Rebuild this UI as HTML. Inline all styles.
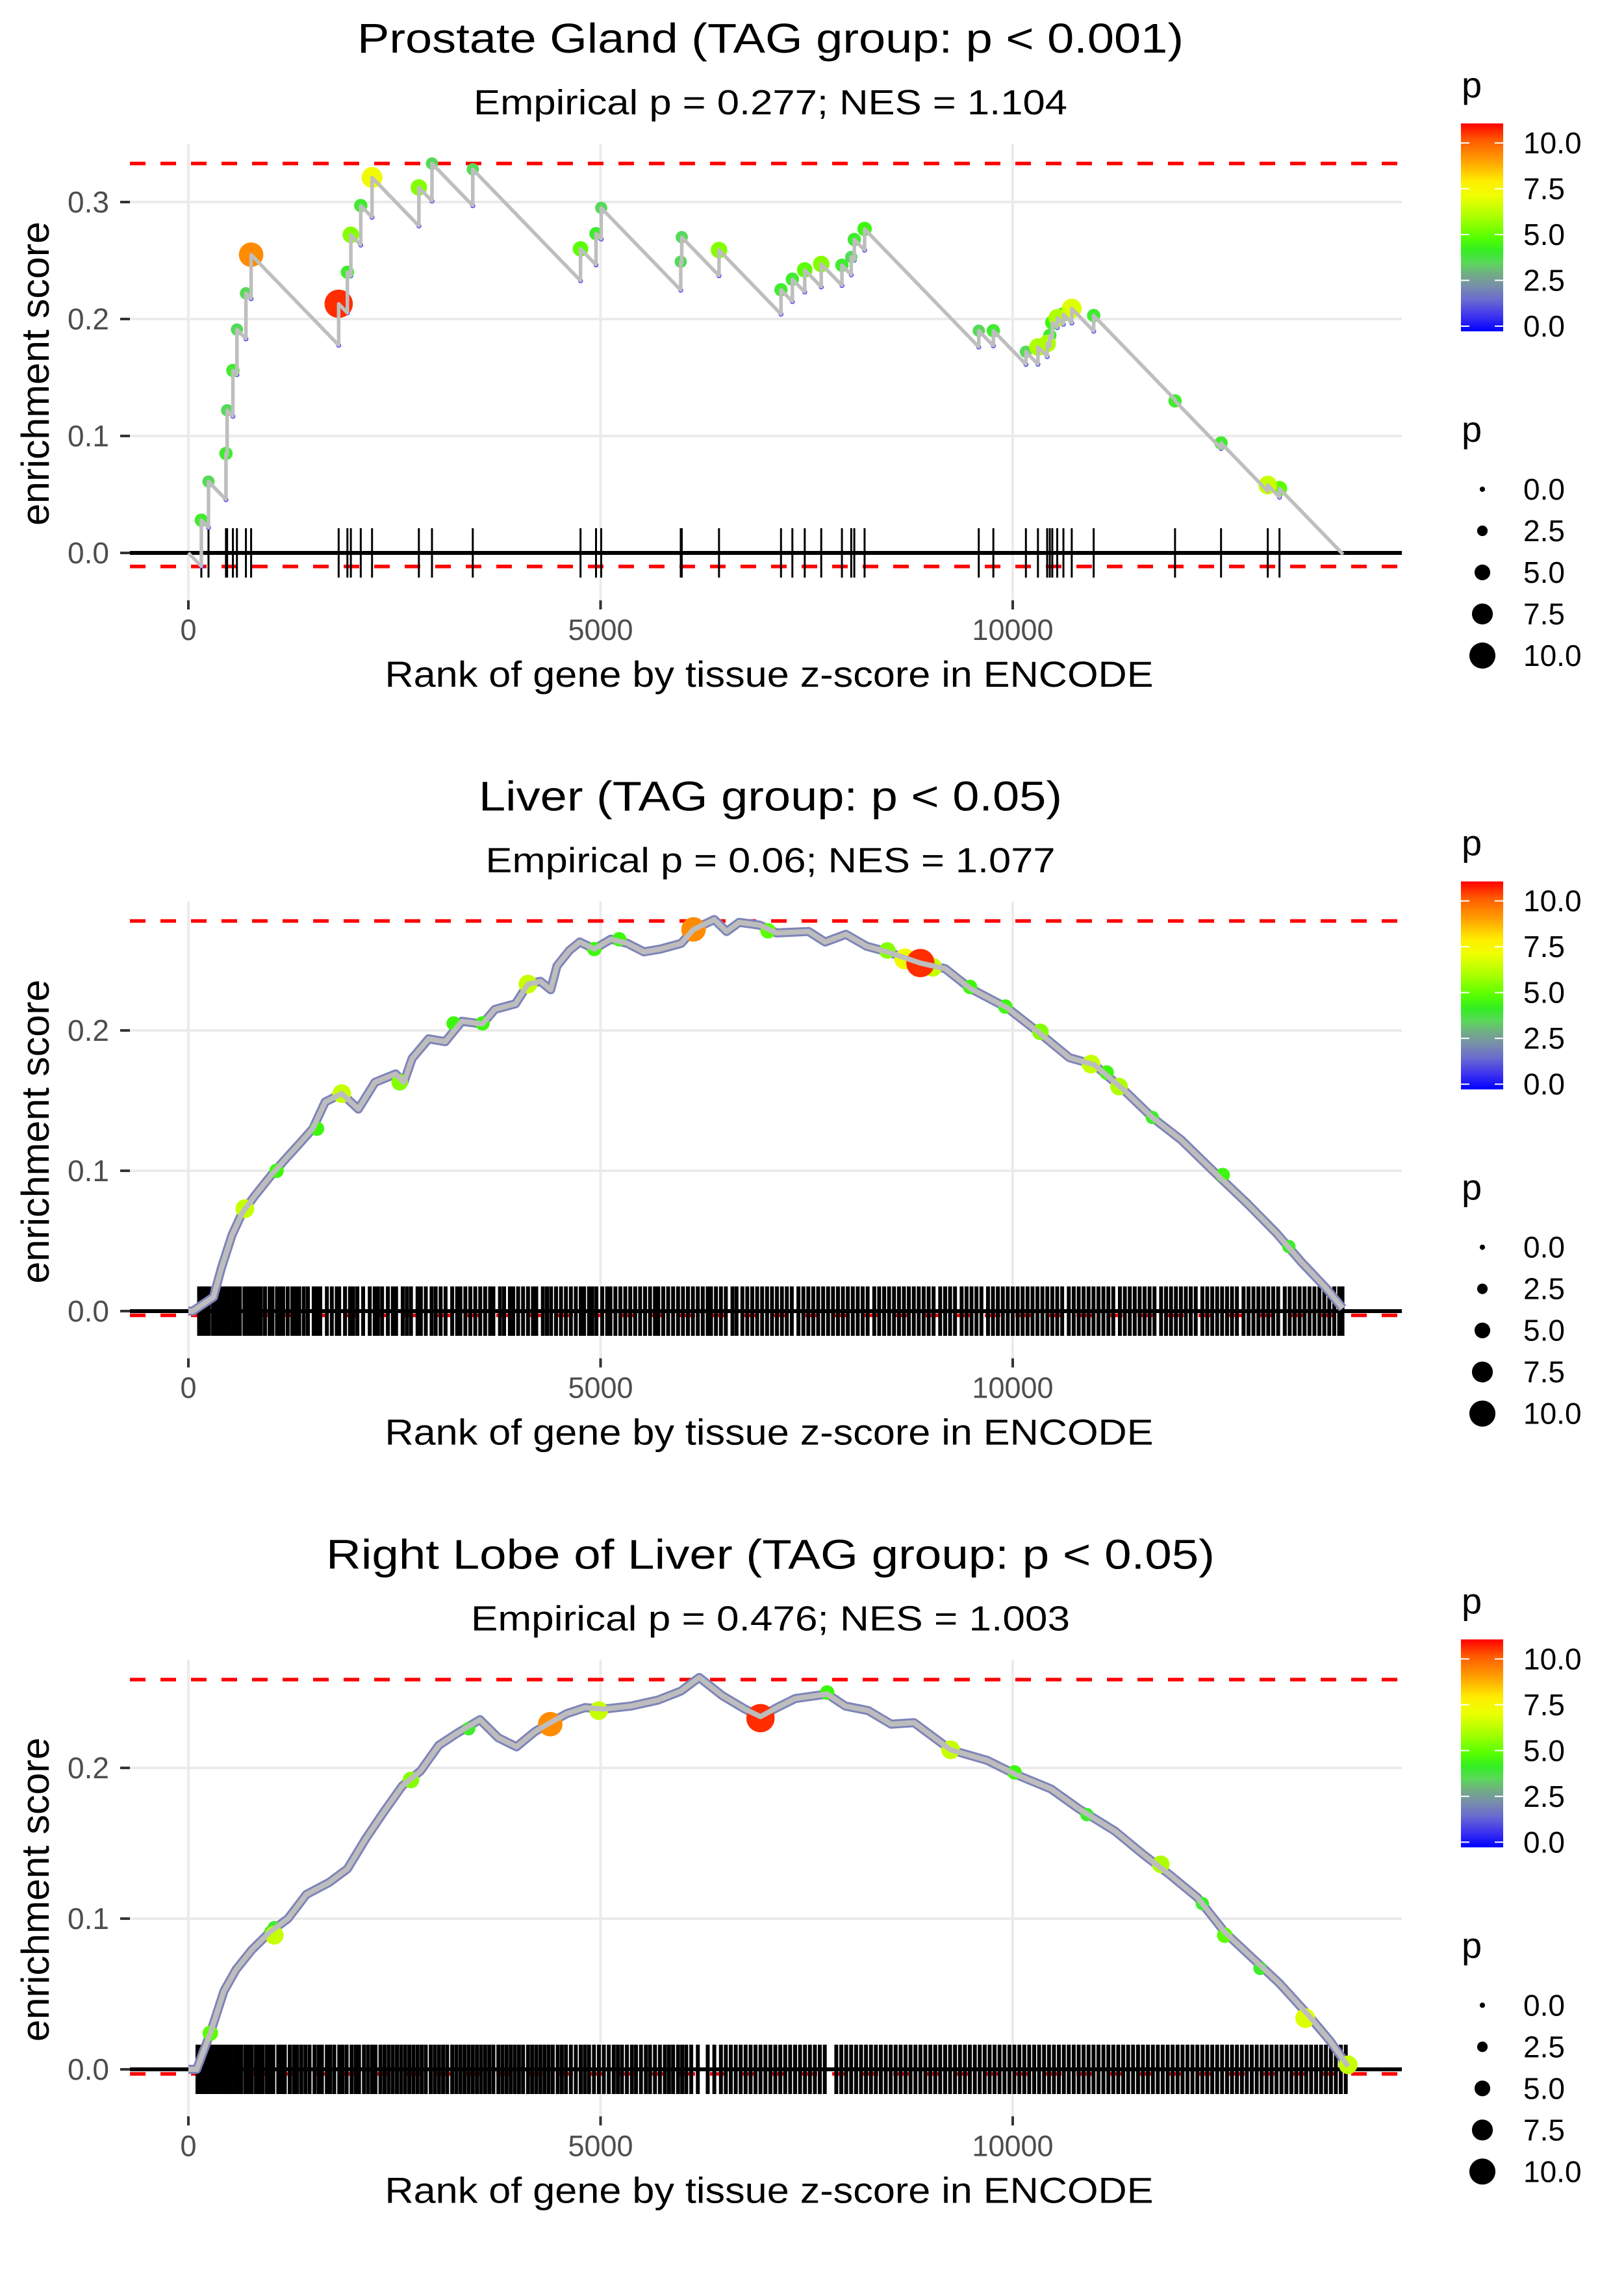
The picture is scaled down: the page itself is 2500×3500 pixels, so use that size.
<!DOCTYPE html>
<html><head><meta charset="utf-8">
<style>
html,body{margin:0;padding:0;background:#fff;}
svg{display:block;font-family:"Liberation Sans",Arial,sans-serif;}
</style></head>
<body>
<svg id="chart" xmlns="http://www.w3.org/2000/svg" width="2500" height="3500" viewBox="0 0 2500 3500">
<defs>
<linearGradient id="pgrad" x1="0" y1="1" x2="0" y2="0">
<stop offset="0" stop-color="#0000ff"/>
<stop offset="0.07" stop-color="#3a30f0"/>
<stop offset="0.15" stop-color="#6a6ad0"/>
<stop offset="0.22" stop-color="#7890a8"/>
<stop offset="0.28" stop-color="#70b080"/>
<stop offset="0.33" stop-color="#5ad85a"/>
<stop offset="0.39" stop-color="#33ee22"/>
<stop offset="0.45" stop-color="#55ff00"/>
<stop offset="0.55" stop-color="#aaff00"/>
<stop offset="0.65" stop-color="#eeff00"/>
<stop offset="0.72" stop-color="#ffee00"/>
<stop offset="0.82" stop-color="#ffa000"/>
<stop offset="0.92" stop-color="#ff5a00"/>
<stop offset="1" stop-color="#ff0000"/>
</linearGradient>
</defs>
<g id="panels"></g>
</svg>
<script>
// ---------- Panel 1: Prostate Gland ----------
const P1_rank=[157,244,456,470,540,589,698,761,1823,1929,1971,2091,2228,2796,2955,3450,4757,4945,5008,5973,5985,6437,7189,7327,7477,7677,7928,8041,8078,8203,9588,9765,10160,10306,10418,10450,10480,10540,10615,10716,10982,11969,12527,13094,13236];
const P1_es=[0.028,0.061,0.085,0.122,0.156,0.191,0.222,0.255,0.213,0.240,0.272,0.297,0.321,0.3125,0.333,0.328,0.260,0.273,0.295,0.249,0.270,0.259,0.225,0.234,0.242,0.247,0.246,0.253,0.268,0.277,0.190,0.190,0.172,0.176,0.179,0.186,0.197,0.201,0.204,0.209,0.203,0.130,0.094,0.058,0.055];
const P1_p=[3.5,3,3.5,3,3.5,3,3,8.7,10.5,3.5,5,3.5,7,5,3,3,4.5,3.5,3,3,3,5,3.5,3.5,4.5,5,3.5,3,3.5,4,3,3.5,3,5.5,5.5,3.5,4,5.5,4,6.5,3.5,3.5,3.5,6,4.5];
const P1_end=14008;
const P1_drop=0.0000729;

// ---------- Panel 2: Liver ----------
const P2_curveRank=[0,53,304,402,528,653,803,1007,1157,1358,1509,1659,1860,2062,2263,2514,2614,2714,2915,3116,3317,3567,3718,3969,4120,4270,4395,4472,4622,4748,4924,5125,5326,5527,5727,5978,6128,6379,6530,6681,6932,7133,7524,7724,7976,8227,8478,8880,9181,9482,9935,10285,10687,10990,11340,11693,12044,12446,12848,13200,13501,13803,14003];
const P2_curveES=[0,0,0.010,0.031,0.054,0.070,0.082,0.097,0.107,0.120,0.130,0.149,0.155,0.144,0.163,0.169,0.163,0.180,0.194,0.192,0.2065,0.2046,0.215,0.219,0.233,0.235,0.229,0.246,0.257,0.263,0.258,0.265,0.262,0.256,0.258,0.262,0.272,0.279,0.2705,0.277,0.275,0.2695,0.2705,0.263,0.2685,0.260,0.256,0.248,0.244,0.230,0.216,0.200,0.1806,0.1755,0.158,0.138,0.122,0.099,0.0765,0.0555,0.035,0.0163,0.002];
const P2_hlRank=[685,1070,1560,1860,2564,3218,3567,4120,4924,5225,7032,8478,9482,9910,10335,11140,11693,12547,13350,10950,11290,8690,9030,6128,8880];
const P2_hlES=[0.073,0.100,0.130,0.155,0.163,0.205,0.205,0.233,0.258,0.265,0.271,0.257,0.231,0.217,0.199,0.170,0.138,0.097,0.046,0.176,0.160,0.251,0.245,0.272,0.248];
const P2_hlP=[6,4,4,6,5,4,4,6,4,4,4.5,5,4,4,5,4,3.5,4,3.5,6,5.5,7,6,8.7,10.5];
const P2_rug=[130,170,215,250,300,335,380,420,455,500,545,590,625,680,720,760,805,850,880,930,985,1020,1075,1120,1150,1205,1260,1300,1345,1400,1450,1520,1560,1600,1680,1740,1800,1830,1900,1960,2000,2050,2120,2200,2260,2300,2350,2420,2480,2520,2600,2650,2700,2780,2820,2880,2950,3000,3060,3120,3200,3260,3300,3360,3420,3480,3540,3600,3660,3700,3780,3830,3900,3940,4000,4060,4120,4180,4220,4300,4350,4400,4460,4520,4580,4640,4700,4760,4800,4860,4900,4950,5020,5080,5120,5180,5240,5300,5360,5420,5480,5540,5600,5660,5700,5760,5820,5880,5940,6000,6060,6120,6180,6240,6300,6340,6400,6460,6520,6600,6650,6720,6780,6840,6900,6960,7020,7080,7140,7200,7260,7320,7400,7460,7520,7580,7640,7700,7760,7820,7880,7940,8000,8060,8120,8180,8240,8320,8380,8440,8500,8560,8620,8680,8740,8800,8860,8920,8980,9040,9120,9180,9240,9300,9380,9440,9500,9560,9620,9700,9760,9820,9880,9940,10000,10060,10120,10180,10240,10300,10360,10420,10480,10540,10600,10680,10740,10800,10860,10920,10980,11040,11100,11160,11220,11300,11360,11420,11480,11540,11600,11660,11720,11800,11860,11920,11980,12040,12100,12160,12220,12300,12360,12420,12480,12540,12600,12660,12720,12800,12860,12920,12980,13040,13100,13160,13220,13300,13360,13420,13480,13540,13600,13660,13720,13780,13840,13900,13960,14000];
const P2_dashTop=0.278, P2_dashBot=-0.003;

// ---------- Panel 3: Right Lobe of Liver ----------
const P3_curveRank=[0,100,266,432,576,765,987,1208,1430,1707,1929,2151,2373,2594,2816,3038,3260,3537,3758,3980,4202,4390,4590,4812,5033,5366,5698,5976,6197,6475,6752,6940,7140,7361,7749,7971,8248,8525,8803,9246,9690,10022,10466,10798,11242,11574,11907,12240,12572,12905,13237,13570,13847,14069];
const P3_curveES=[0,0,0.024,0.052,0.066,0.079,0.091,0.100,0.116,0.124,0.133,0.153,0.171,0.188,0.198,0.215,0.223,0.232,0.220,0.214,0.224,0.230,0.236,0.240,0.239,0.241,0.245,0.251,0.260,0.248,0.239,0.234,0.240,0.246,0.249,0.241,0.238,0.229,0.230,0.212,0.205,0.196,0.186,0.173,0.158,0.143,0.129,0.114,0.091,0.074,0.057,0.037,0.019,0.002];
const P3_hlRank=[266,1042,1000,2700,3400,7749,10022,10900,12300,12572,13000,1042,4978,9246,11796,13548,14069,4390,6940];
const P3_hlES=[0.024,0.094,0.091,0.192,0.226,0.250,0.197,0.169,0.110,0.089,0.067,0.089,0.238,0.212,0.136,0.034,0.003,0.229,0.233];
const P3_hlP=[4.5,3.5,3.5,5,3.5,4,4,3.5,3.5,4.5,3.5,6,6,6,5.5,6.5,6,8.7,10.5];
const P3_rug=[110,150,190,235,270,310,355,395,440,470,515,560,600,640,690,730,770,820,860,900,950,990,1030,1090,1130,1170,1230,1280,1320,1370,1420,1470,1530,1580,1620,1680,1720,1770,1830,1870,1920,1980,2030,2070,2130,2180,2230,2270,2330,2380,2430,2480,2530,2580,2630,2680,2730,2780,2830,2880,2940,2990,3040,3090,3140,3200,3250,3300,3350,3400,3450,3500,3550,3600,3650,3700,3760,3810,3860,3910,3960,4010,4060,4120,4170,4220,4270,4320,4370,4420,4480,4530,4580,4640,4700,4760,4810,4860,4920,4980,5040,5100,5160,5210,5260,5320,5380,5430,5490,5550,5600,5660,5720,5780,5830,5880,5940,5990,6040,6100,6180,6300,6380,6460,6520,6580,6640,6700,6760,6820,6880,6940,7000,7060,7120,7180,7240,7300,7360,7420,7480,7540,7600,7660,7720,7860,7920,7980,8040,8100,8160,8220,8280,8340,8400,8460,8520,8580,8640,8700,8760,8820,8880,8940,9000,9060,9120,9180,9240,9300,9360,9420,9480,9540,9600,9660,9720,9780,9840,9900,9960,10020,10080,10140,10200,10260,10320,10380,10440,10500,10560,10620,10680,10740,10800,10860,10920,10980,11040,11100,11160,11220,11280,11340,11400,11460,11520,11580,11640,11700,11760,11820,11880,11940,12000,12060,12120,12180,12240,12300,12360,12420,12480,12540,12600,12660,12720,12780,12840,12900,12960,13020,13080,13140,13200,13260,13320,13380,13440,13500,13560,13620,13680,13740,13800,13860,13920,13980,14040];
const P3_dashTop=0.2586, P3_dashBot=-0.003;

// ---------- shared ----------
const xTicks=[0,5000,10000];
const xTickLabels=["0","5000","10000"];
const P1_yTicks=[0,0.1,0.2,0.3];
const P23_yTicks=[0,0.1,0.2];
const legendTicks=[0,2.5,5,7.5,10];
const legendLabels=["0.0","2.5","5.0","7.5","10.0"];

const NS="http://www.w3.org/2000/svg";
const root=document.getElementById('panels');
function mk(tag,attrs,parent){const e=document.createElementNS(NS,tag);for(const k in attrs)e.setAttribute(k,attrs[k]);(parent||root).appendChild(e);return e;}
const PL=200, PR=2158, PT=221, PB=926;
function xS(r){return 290+r*0.1269;}
const colStops=[[0,[0,0,255]],[0.8,[90,80,220]],[1.6,[120,140,170]],[2.5,[110,180,120]],[3.1,[80,225,80]],[3.8,[50,245,20]],[4.5,[90,255,0]],[5.5,[175,255,0]],[6.8,[235,255,0]],[7.6,[255,235,0]],[8.7,[255,140,0]],[10,[255,90,0]],[11,[255,0,0]]];
function pColor(p){
  for(let i=1;i<colStops.length;i++){
    if(p<=colStops[i][0]){const a=colStops[i-1],b=colStops[i];const t=(p-a[0])/(b[0]-a[0]);
      const c=a[1].map((v,j)=>Math.round(v+(b[1][j]-v)*t));return 'rgb('+c.join(',')+')';}
  }
  return 'rgb(255,0,0)';
}
function pRad(p){return 4.5+1.65*p;}

function panelFrame(g,yS,yTicks,dTop,dBot,title,titleLen,sub,subLen,prefix){
  yTicks.forEach(v=>{const l=mk('line',{x1:PL,x2:PR,y1:yS(v),y2:yS(v),stroke:'#ebebeb','stroke-width':4},g);
    });
  xTicks.forEach(v=>{const l=mk('line',{x1:xS(v),x2:xS(v),y1:PT,y2:PB,stroke:'#ebebeb','stroke-width':4},g);
    });
  [dTop,dBot].forEach(v=>{const l=mk('line',{x1:PL,x2:PR,y1:yS(v),y2:yS(v),stroke:'#ff0000','stroke-width':5.5,'stroke-dasharray':'24 23'},g);
    });
  const z=mk('line',{x1:PL,x2:PR,y1:yS(0),y2:yS(0),stroke:'#000','stroke-width':6},g);
  
  yTicks.forEach(v=>{
    const t=mk('line',{x1:185,x2:200,y1:yS(v),y2:yS(v),stroke:'#333','stroke-width':4},g);
    
    const tx=mk('text',{x:168,y:yS(v)+16,'text-anchor':'end','font-size':46,fill:'#4d4d4d'},g);tx.textContent=v.toFixed(1);
    
  });
  xTicks.forEach((v,i)=>{
    const t=mk('line',{x1:xS(v),x2:xS(v),y1:924,y2:938,stroke:'#333','stroke-width':4},g);
    
    const tx=mk('text',{x:xS(v),y:985,'text-anchor':'middle','font-size':45,fill:'#4d4d4d'},g);tx.textContent=xTickLabels[i];
    
  });
  const tt=mk('text',{x:1186,y:81,'text-anchor':'middle','font-size':64,fill:'#000',textLength:titleLen,lengthAdjust:'spacingAndGlyphs'},g);tt.textContent=title;
  
  const st=mk('text',{x:1186,y:176,'text-anchor':'middle','font-size':54,fill:'#000',textLength:subLen,lengthAdjust:'spacingAndGlyphs'},g);st.textContent=sub;
  
  const xt=mk('text',{x:1184,y:1057,'text-anchor':'middle','font-size':56,fill:'#000',textLength:1183,lengthAdjust:'spacingAndGlyphs'},g);xt.textContent='Rank of gene by tissue z-score in ENCODE';
  
  const yt=mk('text',{x:0,y:0,'text-anchor':'middle','font-size':60,fill:'#000',textLength:468,lengthAdjust:'spacingAndGlyphs',transform:'translate(75,575) rotate(-90)'},g);yt.textContent='enrichment score';
  
  const lg=mk('g',{},g);
  
  const lt=mk('text',{x:2250,y:150,'font-size':56,fill:'#000'},lg);lt.textContent='p';
  
  const bar=mk('rect',{x:2249,y:190,width:65,height:320,fill:'url(#pgrad)'},lg);
  
  legendTicks.forEach((v,i)=>{const yy=502-v*28.2;
    mk('line',{x1:2249,x2:2262,y1:yy,y2:yy,stroke:'#fff','stroke-width':2},lg);
    mk('line',{x1:2301,x2:2314,y1:yy,y2:yy,stroke:'#fff','stroke-width':2},lg);
    const tx=mk('text',{x:2345,y:yy+16,'font-size':46,fill:'#000'},lg);tx.textContent=legendLabels[i];
    });
  const sg=mk('g',{},g);
  
  const st2=mk('text',{x:2250,y:680,'font-size':56,fill:'#000'},sg);st2.textContent='p';
  
  legendTicks.forEach((v,i)=>{const yy=753+i*64;
    const c=mk('circle',{cx:2282,cy:yy,r:1.8*2.27+1.6*v,fill:'#000'},sg);
    
    const tx=mk('text',{x:2345,y:yy+16,'font-size':46,fill:'#000'},sg);tx.textContent=legendLabels[i];
    });
}

function rug(g,yS,ranks,w,prefix){
  const rg=mk('g',{},g);
  
  ranks.forEach(r=>{const l=mk('line',{x1:xS(r),x2:xS(r),y1:yS(0)-38,y2:yS(0)+38,stroke:'#000','stroke-width':w},rg);
    });
}

// ---- Panel 1 ----
(function(){
  const g=mk('g',{transform:'translate(0,0)'});
  
  const yS=v=>851-v*1800;
  panelFrame(g,yS,P1_yTicks,0.333,-0.0116,'Prostate Gland (TAG group: p < 0.001)',1272,'Empirical p = 0.277; NES = 1.104',914,'prostate');
  rug(g,yS,P1_rank,3,'prostate');
  let d='M'+xS(0)+','+yS(0);const before=[];let prevR=0,prevE=0;
  P1_rank.forEach((r,i)=>{const b=prevE-P1_drop*(r-prevR);before.push(b);d+=' L'+xS(r)+','+yS(b)+' L'+xS(r)+','+yS(P1_es[i]);prevR=r;prevE=P1_es[i];});
  d+=' L'+xS(P1_end)+','+yS(prevE-P1_drop*(P1_end-prevR));
  P1_rank.forEach((r,i)=>{const c=mk('circle',{cx:xS(r),cy:yS(before[i]),r:3,fill:'none',stroke:'#2222ff','stroke-width':1.5},g);
    });
  const order=P1_rank.map((r,i)=>i).sort((a,b)=>P1_p[a]-P1_p[b]);
  order.forEach(i=>{const c=mk('circle',{cx:xS(P1_rank[i]),cy:yS(P1_es[i]),r:pRad(P1_p[i]),fill:pColor(P1_p[i])},g);
    });
  const path=mk('path',{d:d,fill:'none',stroke:'#bebebe','stroke-width':5.5,'stroke-linejoin':'round'},g);
  
})();

function densePanel(off,yScale,y0,cr,ce,hr,he,hp,rr,dT,dB,title,tl,sub,sl,prefix,gname){
  const g=mk('g',{transform:'translate(0,'+off+')'});
  
  const yS=v=>y0-v*yScale;
  panelFrame(g,yS,P23_yTicks,dT,dB,title,tl,sub,sl,prefix);
  rug(g,yS,rr,6,prefix);
  const pts=cr.map((r,i)=>xS(r)+','+yS(ce[i])).join(' ');
  const o=mk('polyline',{points:pts,fill:'none',stroke:'#7d84b8','stroke-width':14,'stroke-linejoin':'round'},g);
  
  const order=hr.map((r,i)=>i).sort((a,b)=>hp[a]-hp[b]);
  order.forEach(i=>{const c=mk('circle',{cx:xS(hr[i]),cy:yS(he[i]),r:pRad(hp[i]),fill:pColor(hp[i])},g);
    });
  const l=mk('polyline',{points:pts,fill:'none',stroke:'#bdbdbd','stroke-width':8,'stroke-linejoin':'round'},g);
  
}
densePanel(1166.67,2160,851.3,P2_curveRank,P2_curveES,P2_hlRank,P2_hlES,P2_hlP,P2_rug,P2_dashTop,P2_dashBot,'Liver (TAG group: p < 0.05)',898,'Empirical p = 0.06; NES = 1.077',877,'liver','panel-liver');
densePanel(2333.33,2320,851.7,P3_curveRank,P3_curveES,P3_hlRank,P3_hlES,P3_hlP,P3_rug,P3_dashTop,P3_dashBot,'Right Lobe of Liver (TAG group: p < 0.05)',1368,'Empirical p = 0.476; NES = 1.003',922,'right-lobe','panel-right-lobe-of-liver');
</script>
</body></html>
